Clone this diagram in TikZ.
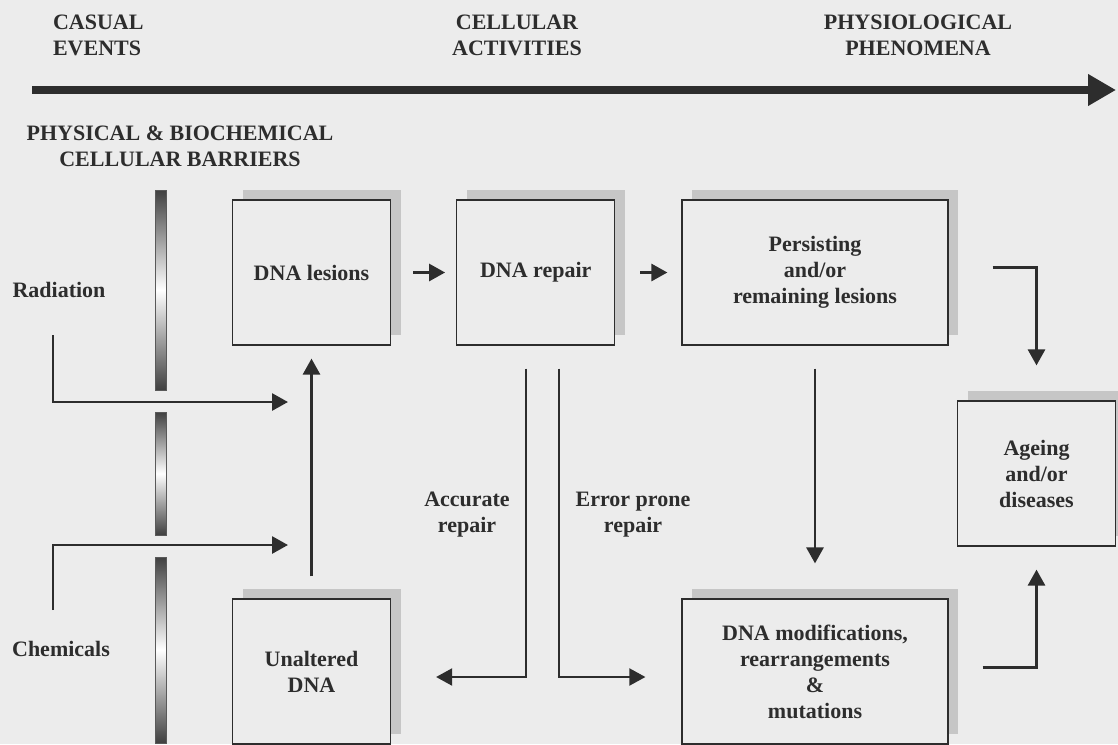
\documentclass[tikz,border=0pt]{standalone}
\usepackage{fontspec}
\setmainfont{Liberation Serif}
\usepackage{tikz}
\usetikzlibrary{arrows.meta,positioning,shadows}
\definecolor{paper}{RGB}{236,236,236}
\definecolor{ink}{RGB}{45,45,45}
\definecolor{shadowgray}{RGB}{198,198,198}

\begin{document}
\begin{tikzpicture}[
    x=0.5pt, y=-0.5pt,
    every node/.style={text=ink, font=\fontsize{11}{13}\selectfont\bfseries},
    stage/.style={rectangle, draw=ink, line width=0.6pt, fill=paper, minimum width=79pt, minimum height=72.5pt, align=center, inner sep=2pt, drop shadow={shadow xshift=5pt, shadow yshift=5pt, fill=shadowgray, opacity=1}},
    widestage/.style={stage, minimum width=133pt},
    flow/.style={draw=ink, line width=1.4pt, -{Triangle[length=8pt,width=8.5pt]}},
    branch/.style={draw=ink, line width=1pt, -{Triangle[length=8pt,width=8.5pt]}},
    barrier/.style={top color=black!75, bottom color=black!75, middle color=white, draw=gray!70!black, line width=0.3pt},
]

% background and page size
\fill[paper] (0,0) rectangle (1118,744);
\useasboundingbox (0,0) rectangle (1118,744);

% Category labels at top
\node[align=left, anchor=west] (casual) at (46,35) {CASUAL\\EVENTS};
\node[align=center] (cellular) at (517,35) {CELLULAR\\ACTIVITIES};
\node[align=center] (physio) at (918,35) {PHYSIOLOGICAL\\PHENOMENA};
\coordinate (axisstart) at (32,90);
\coordinate (axisend) at (1116,90);
\draw[draw=ink, line width=4pt, -{Triangle[length=14pt,width=15pt]}] (axisstart) -- (axisend);

% Barriers
\node[align=center] (barriers) at (180,146) {PHYSICAL \& BIOCHEMICAL\\CELLULAR BARRIERS};
\foreach \a/\b in {190/390, 412/535, 557/743}
    \shade[barrier] (155,\a) rectangle (166,\b);

% Causal events
\node (radiation) at (59,290) {Radiation};
\node (chemicals) at (61,649) {Chemicals};
\coordinate (radsrc) at (53,335);
\coordinate (radin) at (288,402);
\coordinate (chemsrc) at (53,610);
\coordinate (chemin) at (288,545);

% Cellular activities
\node[stage] (lesions) at (311.5,272.5) {DNA lesions};
\node[stage, right=32.5pt of lesions] (repair) {DNA repair};
\node[widestage] (persist) at (815,272.5) {Persisting\\and/or\\remaining lesions};
\node[stage] (unaltered) at (311.5,671.5) {Unaltered\\DNA};
\node[widestage] (modif) at (815,671.5) {DNA modifications,\\rearrangements\\\&\\mutations};
\node[stage] (ageing) at (1036.5,473.5) {Ageing\\and/or\\diseases};

\node[align=center] (accurate) at (467,515) {Accurate\\repair};
\node[align=center] (errorprone) at (633,515) {Error prone\\repair};

% Connectors
\draw[flow] (radsrc) |- (radin);
\draw[flow] (chemsrc) |- (chemin);
\draw[flow] ([yshift=11pt]unaltered.north) -- ([yshift=-6.5pt]lesions.south);
\draw[flow, shorten <=11pt, shorten >=5.5pt] (lesions) -- (repair);
\draw[flow, shorten <=12.5pt, shorten >=7pt] (repair) -- (persist);
\draw[flow] ([xshift=22pt,yshift=2.5pt]persist.east) -| ([yshift=17.5pt]ageing.north);
\draw[flow] ([yshift=-11.5pt]persist.south) -- ([yshift=17.5pt]modif.north);
\draw[flow] ([xshift=17pt,yshift=2pt]modif.east) -| ([yshift=-11.5pt]ageing.south);
\draw[branch] ([xshift=-5pt,yshift=-11.5pt]repair.south) |- ([shift={(22.5pt,-2.75pt)}]unaltered.east);
\draw[branch] ([xshift=11.5pt,yshift=-11.5pt]repair.south) |- ([shift={(-18pt,-2.75pt)}]modif.west);

\end{tikzpicture}
\end{document}
